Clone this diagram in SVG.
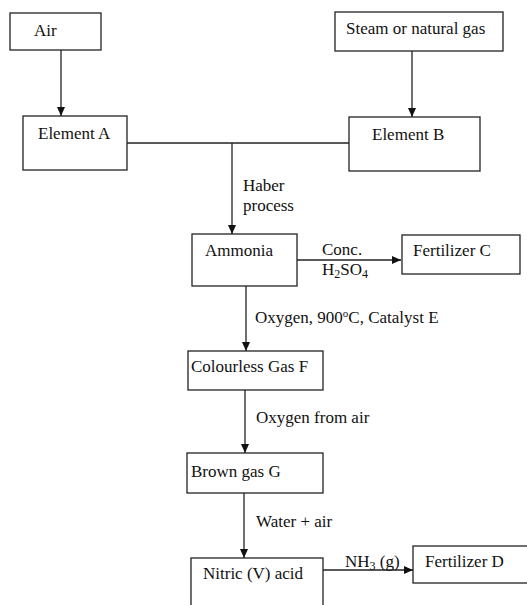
<svg xmlns="http://www.w3.org/2000/svg" width="527" height="605" viewBox="0 0 527 605">
<defs>
<marker id="ah" markerWidth="10" markerHeight="10" refX="9" refY="5" orient="auto" markerUnits="userSpaceOnUse">
<path d="M0,1 L9,5 L0,9 Z" fill="#111"/>
</marker>
<style>
.box{fill:#fff;stroke:#222;stroke-width:1.3}
.t{font-family:"Liberation Serif","Times New Roman",serif;font-size:17px;fill:#111}
.ln{stroke:#222;stroke-width:1.3;fill:none}
.ar{stroke:#222;stroke-width:1.3;fill:none;marker-end:url(#ah)}
</style>
</defs>
<rect width="527" height="605" fill="#fff"/>
<g id="connectors">
<line class="ar" x1="61" y1="50" x2="61" y2="116"/>
<line class="ar" x1="412" y1="51" x2="412" y2="117"/>
<line class="ln" x1="127" y1="143" x2="349" y2="143"/>
<line class="ar" x1="232" y1="143" x2="232" y2="234"/>
<line class="ar" x1="297" y1="260" x2="401" y2="260"/>
<line class="ar" x1="246" y1="286" x2="246" y2="351"/>
<line class="ar" x1="245" y1="390" x2="245" y2="453"/>
<line class="ar" x1="244" y1="493" x2="244" y2="558"/>
<line class="ar" x1="323" y1="570" x2="413" y2="570"/>
<text class="t" x="243" y="191">Haber</text>
<text class="t" x="243" y="211">process</text>
<text class="t" x="322" y="255">Conc.</text>
<text class="t" x="322" y="275">H<tspan font-size="12" dy="3">2</tspan><tspan dy="-3">SO</tspan><tspan font-size="12" dy="3">4</tspan></text>
<text class="t" x="255" y="323">Oxygen, 900<tspan font-size="11" dy="-6">o</tspan><tspan dy="6">C, Catalyst E</tspan></text>
<text class="t" x="256" y="423">Oxygen from air</text>
<text class="t" x="256" y="527">Water + air</text>
<text class="t" x="345" y="567">NH<tspan font-size="12" dy="3">3</tspan><tspan dy="-3"> (g)</tspan></text>
</g>
<g id="air"><rect class="box" x="10" y="13" width="91" height="37"/><text class="t" x="34" y="36">Air</text></g>
<g id="steam"><rect class="box" x="335" y="12" width="168" height="39"/><text class="t" x="346" y="34">Steam or natural gas</text></g>
<g id="elementA"><rect class="box" x="23" y="116" width="104" height="54"/><text class="t" x="38" y="139">Element A</text></g>
<g id="elementB"><rect class="box" x="349" y="117" width="131" height="54"/><text class="t" x="372" y="140">Element B</text></g>
<g id="ammonia"><rect class="box" x="192" y="234" width="105" height="52"/><text class="t" x="205" y="256">Ammonia</text></g>
<g id="fertC"><rect class="box" x="402" y="235" width="118" height="39"/><text class="t" x="413" y="256">Fertilizer C</text></g>
<g id="gasF"><rect class="box" x="188" y="351" width="135" height="39"/><text class="t" x="191" y="372">Colourless Gas F</text></g>
<g id="gasG"><rect class="box" x="187" y="453" width="136" height="40"/><text class="t" x="191" y="477">Brown gas G</text></g>
<g id="nitric"><rect class="box" x="191" y="558" width="132" height="60"/><text class="t" x="203" y="579">Nitric (V) acid</text></g>
<g id="fertD"><rect class="box" x="413" y="546" width="120" height="37"/><text class="t" x="425" y="567">Fertilizer D</text></g>
</svg>
